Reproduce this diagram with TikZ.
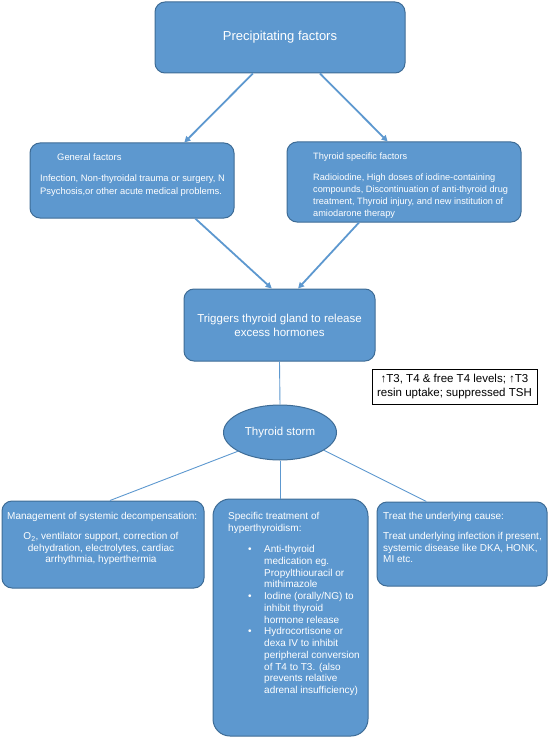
\documentclass[tikz,border=0pt]{standalone}
\usepackage{fontspec}
\setmainfont{Liberation Sans}
\usetikzlibrary{shapes.geometric,arrows.meta}
\definecolor{boxfill}{RGB}{93,152,207}
\definecolor{boxline}{RGB}{62,108,150}
\tikzstyle{box} = [rectangle, rounded corners = 10pt, draw = boxline, fill = boxfill, line width = 1pt, inner sep = 0pt, text = white, align = center]
\tikzstyle{stormnode} = [ellipse, draw = boxline, fill = boxfill, line width = 1pt, inner sep = 0pt, minimum width = 113pt, minimum height = 55pt, text = white]
\tikzstyle{labnode} = [rectangle, draw = black, fill = white, line width = 0.8pt, inner sep = 0pt, minimum width = 165pt, minimum height = 35pt, align = center]
\tikzstyle{txt} = [inner sep = 0pt, anchor = north west, align = left, text = white]
\tikzstyle{link} = [draw = boxfill, line width = 1.8pt]
\tikzstyle{thinlink} = [draw = boxfill, line width = 0.9pt]
\newcommand{\fs}[2]{\fontsize{#1}{#2}\selectfont}

\begin{document}
\begin{tikzpicture}[x = 1pt, y = -1pt, >={Triangle[length = 6pt, width = 6pt]}]
    \useasboundingbox (0, 0) rectangle (555, 738);

    \node (top) at (280, 37.5) [box, minimum width = 250pt, minimum height = 71pt, font = \fs{13}{15}] {Precipitating factors};
    \node (gen) at (132, 180.5) [box, minimum width = 204pt, minimum height = 75pt] {};
    \node (spec) at (404, 182) [box, minimum width = 234pt, minimum height = 80pt] {};
    \node (trig) at (279.5, 325) [box, minimum width = 191pt, minimum height = 72pt, font = \fs{11.5}{14}] {Triggers thyroid gland to release\\excess hormones};
    \node (lab) at (454.5, 386.5) [labnode, font = \fs{11.5}{14}] {↑T3, T4 \& free T4 levels; ↑T3\\resin uptake; suppressed TSH};
    \node (storm) at (280, 432.5) [stormnode, font = \fs{11.5}{14}] {Thyroid storm};
    \node (mgmt) at (103, 544.5) [box, minimum width = 202pt, minimum height = 87pt] {};
    \node (mid) at (290.5, 617.5) [box, rounded corners = 17pt, minimum width = 155pt, minimum height = 237pt] {};
    \node (cause) at (462, 544) [box, minimum width = 170pt, minimum height = 84pt] {};

    \node (gentitle) at (57, 153) [txt, font = \fs{9.4}{12.7}] {General factors};
    \node (gentext) at (40, 174.7) [txt, font = \fs{9.4}{12.7}] {Infection, Non-thyroidal trauma or surgery, N\\Psychosis,or other acute medical problems.};
    \node (spectitle) at (313, 152.7) [txt, font = \fs{9.2}{12}] {Thyroid specific factors};
    \node (spectext) at (313, 173.4) [txt, font = \fs{9.2}{12}] {Radioiodine, High doses of iodine-containing\\compounds, Discontinuation of anti-thyroid drug\\treatment, Thyroid injury, and new institution of\\amiodarone therapy};

    \node (mgmttitle) at (7, 512.2) [txt, font = \fs{10}{11.6}] {Management of systemic decompensation:};
    \node (mgmttext) at (101, 532.2) [txt, anchor = north, align = center, font = \fs{10}{11.6}] {O\textsubscript{2}, ventilator support, correction of\\dehydration, electrolytes, cardiac\\arrhythmia, hyperthermia};
    \node (midtitle) at (228, 512) [txt, font = \fs{10}{12}] {Specific treatment of\\hyperthyroidism:};
    \node (midtext) at (264, 545.2) [txt, font = \fs{10}{11.75}] {\llap{\textbullet\hspace{12.5pt}}Anti-thyroid\\medication eg.\\Propylthiouracil or\\mithimazole\\\llap{\textbullet\hspace{12.5pt}}Iodine (orally/NG) to\\inhibit thyroid\\hormone release\\\llap{\textbullet\hspace{12.5pt}}Hydrocortisone or\\dexa IV to inhibit\\peripheral conversion\\of T4 to T3. (also\\prevents relative\\adrenal insufficiency)};
    \node (causetitle) at (383, 512.2) [txt, font = \fs{10}{11.6}] {Treat the underlying cause:};
    \node (causetext) at (383, 532.2) [txt, font = \fs{10}{11.6}] {Treat underlying infection if present,\\systemic disease like DKA, HONK,\\MI etc.};

    \draw [link, ->] (top.233) -- (gen.36);
    \draw [link, ->] (top.318) -- (spec.112);
    \draw [link, ->] (gen.329) -- (trig.102);
    \draw [link, ->] (spec.222) -- (trig.63);
    \draw [thinlink] (trig.south) -- (storm.north);
    \draw [thinlink] (storm.204) -- (mgmt.81);
    \draw [thinlink] (storm.south) -- (storm.south |- mid.north);
    \draw [thinlink] (storm.338) -- (cause.130);
\end{tikzpicture}
\end{document}
